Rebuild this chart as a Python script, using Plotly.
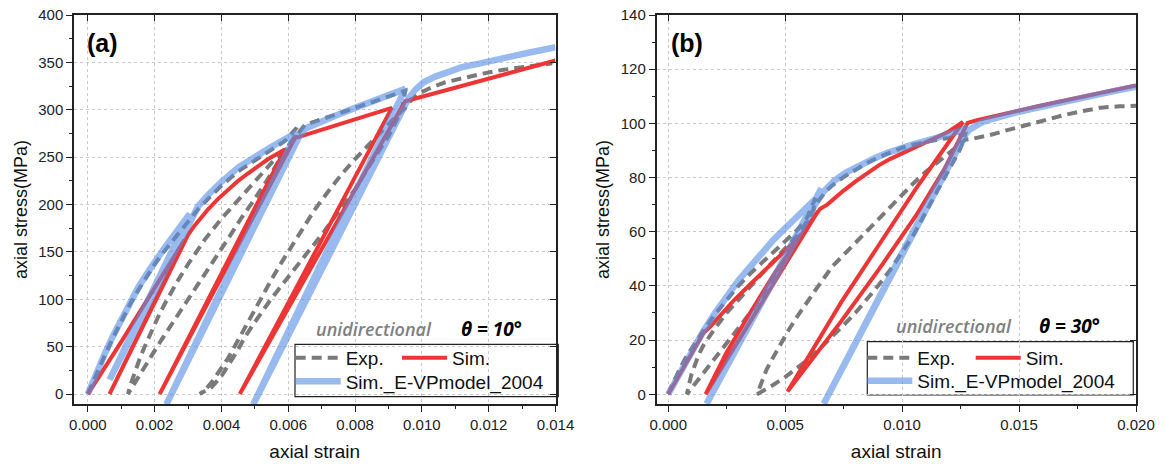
import plotly.graph_objects as go

# ---------------- data: panel (a), theta = 10 deg ----------------
exp_a_strain = [0, 0.00025, 0.0005, 0.00075, 0.001, 0.00125, 0.0015, 0.00175, 0.002, 0.00225, 0.0025, 0.00275,
                0.003, 0.0033, 0.0036, 0.004, 0.0045, 0.005, 0.0055, 0.0059, 0.00625,
                0.0062, 0.006, 0.0057, 0.0053, 0.0049, 0.0046, 0.0042, 0.0039, 0.0035, 0.0032, 0.0028, 0.0025,
                0.0022, 0.0019, 0.0017, 0.0015, 0.00135, 0.0012,
                0.0013, 0.0014, 0.00155, 0.0017, 0.0019, 0.0021, 0.0023, 0.0025, 0.0027, 0.003, 0.0035, 0.004,
                0.0045, 0.005, 0.0055, 0.006, 0.0063,
                0.0065, 0.007, 0.0075, 0.008, 0.0085, 0.009, 0.0095,
                0.0094, 0.0092, 0.009, 0.0085, 0.008, 0.0075, 0.007, 0.0065, 0.006, 0.0055, 0.005, 0.0047, 0.0045,
                0.0042, 0.004, 0.0037, 0.00335,
                0.0035, 0.0037, 0.004, 0.0042, 0.0045, 0.0047, 0.005, 0.0052, 0.0055, 0.0058, 0.0062, 0.0065,
                0.0068, 0.0072, 0.0076, 0.008, 0.0084, 0.0087, 0.009, 0.0092, 0.0095,
                0.0097, 0.0099, 0.01025, 0.0107, 0.01125, 0.0118, 0.0124, 0.013, 0.0139]
exp_a_stress = [0, 21, 40, 59, 77, 94, 109, 124, 137, 149, 160, 172,
                183, 195, 206, 220, 235, 247, 258, 267, 281,
                272, 262, 245, 222, 201, 186, 164, 148, 127, 110, 89, 74,
                57, 40, 28, 17, 8, 0,
                12, 23, 37, 50, 66, 81, 95, 108, 120, 137, 163, 185,
                205, 225, 244, 262, 276,
                284, 290, 296, 302, 308, 314, 320,
                300, 286, 272, 245, 216, 192, 168, 146, 124, 101, 76, 60, 47,
                30, 19, 7, 0,
                4, 12, 27, 38, 57, 70, 90, 102, 121, 139, 162, 178,
                195, 214, 232, 248, 263, 274, 285, 292, 302,
                311, 317, 323, 329, 334, 338, 342, 345, 349]

sim_a_strain = [0, 0.001, 0.002, 0.0029, 0.00065, 0.003, 0.0032, 0.0034, 0.0036, 0.0039, 0.0042, 0.0045,
                0.0048, 0.0051, 0.0054, 0.0057, 0.0059,
                0.00215, 0.0062, 0.0091, 0.00455, 0.0095, 0.014]
sim_a_stress = [0, 55, 112, 163, 0, 168, 178, 187, 195, 206, 216, 225,
                233, 241, 248, 254, 258,
                0, 270, 302, 0, 309, 352]

vp_a_strain = [0, 0.00025, 0.0005, 0.00075, 0.001, 0.00125, 0.0015, 0.00175, 0.002, 0.00225, 0.0025, 0.00275,
               0.003, 0.00305,
               0.00065, 0.0031,
               0.0033, 0.0036, 0.004, 0.0045, 0.005, 0.0055, 0.006, 0.00625,
               0.00235, 0.0063,
               0.0065, 0.007, 0.0075, 0.008, 0.0085, 0.009, 0.0095,
               0.00495, 0.0096, 0.0098, 0.01005, 0.0104, 0.01075, 0.0112, 0.01175, 0.0122, 0.01265, 0.0133, 0.014]
vp_a_stress = [0, 22, 42, 61, 79, 96, 112, 126, 140, 152, 164, 176,
               187, 190,
               15, 186,
               198, 210, 224, 239, 251, 261, 271, 276,
               -11, 270,
               280, 288, 295, 302, 309, 315, 322,
               -11, 312, 321, 329, 335, 340, 345, 349, 353, 356, 361, 366]

# ---------------- data: panel (b), theta = 30 deg ----------------
exp_b_strain = [0, 0.00025, 0.0005, 0.00075, 0.001, 0.0015, 0.002, 0.0025, 0.003, 0.0035, 0.004, 0.0045, 0.005,
                0.0055, 0.0059, 0.0063,
                0.0062, 0.006, 0.0057, 0.0053, 0.0048, 0.0043, 0.0039, 0.0035, 0.0031, 0.0027, 0.0023, 0.0019,
                0.0015, 0.0011, 0.0008,
                0.0009, 0.001, 0.00115, 0.0013, 0.0015, 0.0018, 0.0021, 0.0025, 0.0031, 0.0035, 0.0039, 0.0043,
                0.0047, 0.0051, 0.0055, 0.0058, 0.0061, 0.0064,
                0.0067, 0.007, 0.0075, 0.008, 0.0085, 0.009, 0.0095, 0.010, 0.0105, 0.011, 0.0115, 0.012, 0.0127,
                0.0126, 0.0124, 0.0122, 0.0118, 0.0115, 0.011, 0.0105, 0.010, 0.0095, 0.009, 0.0085, 0.008,
                0.0075, 0.007, 0.0065, 0.006, 0.0055, 0.005, 0.0045, 0.0041, 0.0038,
                0.004, 0.0042, 0.0045, 0.0048, 0.0051, 0.0055, 0.0059, 0.0063, 0.007, 0.0075, 0.008, 0.0085,
                0.009, 0.0095, 0.010, 0.0105, 0.011, 0.0115, 0.012, 0.0124, 0.0127,
                0.013, 0.0133, 0.0138, 0.0145, 0.015, 0.0155, 0.0162, 0.0169, 0.0177, 0.0185, 0.0193, 0.020]
exp_b_stress = [0, 5, 9.5, 13.5, 17, 23.5, 29.5, 35, 40, 44.5, 48.5, 52.5, 56.5,
                60.5, 64.5, 72.5,
                68, 64, 59.5, 53.5, 46, 39.5, 34.5, 30, 25.5, 21, 16.5, 12,
                8, 3.5, 0,
                4, 7.5, 11, 14.5, 18, 22, 25.5, 30, 36, 40, 43.5, 47.3,
                51, 54.5, 58.5, 62, 66.5, 71,
                74.5, 77, 80.2, 83, 85.4, 87.5, 89.4, 91, 92.2, 93.2, 94, 94.6, 96,
                93, 89, 86, 80, 75, 67, 59, 52.5, 46, 40.3, 35, 30,
                25.5, 21, 17, 13, 9.5, 6.3, 3.5, 1.5, 0,
                4.5, 9, 13.8, 18.5, 23, 28.5, 33.7, 38.5, 47, 51.5, 56, 60.5,
                65, 69.5, 74, 78, 82, 85.7, 89, 91.8, 94,
                94.3, 94.8, 95.8, 97.5, 98.7, 100, 101.6, 103, 104.5, 105.8, 106.3, 106.5]

sim_b_strain = [0, 0.0015, 0.0018, 0.0022, 0.0028, 0.0035, 0.0042, 0.0049, 0.0056, 0.006, 0.0064,
                0.0016,
                0.0025, 0.0035, 0.0045, 0.0055, 0.0065,
                0.0068, 0.007, 0.0075, 0.008, 0.0085, 0.009, 0.0095, 0.010, 0.0105, 0.011, 0.0115, 0.012, 0.0126,
                0.0106, 0.009, 0.0074, 0.0051,
                0.0074, 0.009, 0.0106, 0.0118, 0.0128,
                0.0132, 0.0138, 0.0145, 0.015, 0.0158, 0.0165, 0.0173, 0.018, 0.019, 0.020]
sim_b_stress = [0, 22.5, 25, 29, 34.6, 40.5, 46.2, 52, 58, 62, 67.5,
                0,
                15.5, 30, 44, 56.5, 68.5,
                70, 71.5, 75.2, 78.5, 81.6, 84.5, 86.9, 89, 91, 93, 95, 97, 100.5,
                76, 55, 34, 1,
                27, 46, 66, 83, 100.2,
                101.2, 102.4, 103.9, 105, 106.3, 107.6, 109, 110.3, 112.1, 114]

vp_b_strain = [0, 0.0005, 0.001, 0.0015, 0.002, 0.0025, 0.003, 0.0035, 0.004, 0.0045, 0.005, 0.0055, 0.006,
               0.0064, 0.00655,
               0.00164, 0.0065,
               0.0068, 0.0071, 0.0076, 0.0082, 0.0088, 0.0094, 0.0098, 0.0105, 0.0114, 0.012, 0.0124, 0.0128,
               0.00665, 0.01275,
               0.0129, 0.0131, 0.0134, 0.0138, 0.0144, 0.015, 0.0158, 0.0165, 0.0173, 0.018, 0.019, 0.020]
vp_b_stress = [0, 8, 15.8, 23.2, 30, 36.2, 42, 47, 52.3, 57, 61.3, 65.3, 69.4,
               73, 76,
               -3.5, 73.5,
               76.5, 78.8, 81.8, 84.6, 87, 89.2, 90.4, 92.3, 94.5, 95.9, 97, 98.5,
               -3.5, 96.5,
               97.8, 99, 100.3, 101.5, 103, 104.3, 105.8, 107.2, 108.7, 110, 111.8, 113.5]

x_ticks_a = [0, 0.002, 0.004, 0.006, 0.008, 0.010, 0.012, 0.014]
y_ticks_a = [0, 50, 100, 150, 200, 250, 300, 350, 400]
x_ticks_b = [0, 0.005, 0.010, 0.015, 0.020]
y_ticks_b = [0, 20, 40, 60, 80, 100, 120, 140]

legend_names = ["Exp.", "Sim.", "Sim._E-VPmodel_2004"]
panel_labels = ["(a)", "(b)"]
theta_labels = ["θ = 10°", "θ = 30°"]

# ---------------- styling ----------------
W, H = 1166, 466
ML, MR, MT, MB = 74, 30, 15, 62
PW, PH = W - ML - MR, H - MT - MB


def px2x(px):
    return (px - ML) / PW


def py2y(py):
    return (H - MB - py) / PH


GRAY = "#7a7a7a"
RED = "#ec3535"
BLUE = "rgba(88,143,228,0.62)"
FONT = "Liberation Sans"

fig = go.Figure()


def add_panel(xa, ya, es, ey, ss, sy, vs, vy, legs):
    fig.add_trace(go.Scatter(x=es, y=ey, mode="lines", name=legend_names[0], xaxis=xa, yaxis=ya,
                             line=dict(color=GRAY, width=4, dash="10px,6px"), legend=legs[0], showlegend=True))
    fig.add_trace(go.Scatter(x=ss, y=sy, mode="lines", name=legend_names[1], xaxis=xa, yaxis=ya,
                             line=dict(color=RED, width=4), legend=legs[1], showlegend=True))
    fig.add_trace(go.Scatter(x=vs, y=vy, mode="lines", name=legend_names[2], xaxis=xa, yaxis=ya,
                             line=dict(color=BLUE, width=6.5), legend=legs[2], showlegend=True))


add_panel("x", "y", exp_a_strain, exp_a_stress, sim_a_strain, sim_a_stress, vp_a_strain, vp_a_stress,
          ["legend", "legend2", "legend3"])
add_panel("x2", "y2", exp_b_strain, exp_b_stress, sim_b_strain, sim_b_stress, vp_b_strain, vp_b_stress,
          ["legend4", "legend5", "legend6"])

# empty helper traces so the mirror (inward-tick) axes are drawn
for xa, ya in [("x3", "y"), ("x", "y3"), ("x4", "y2"), ("x2", "y4")]:
    fig.add_trace(go.Scatter(x=[], y=[], xaxis=xa, yaxis=ya, showlegend=False, hoverinfo="skip"))

dom_a = [0, px2x(555.5)]
dom_b = [px2x(656.5), 1]
xr_a = [-0.000414, 0.014]
yr_a = [-10.5, 400]
xr_b = [-0.0005, 0.020]
yr_b = [-3.6, 140]


def base_axis(**kw):
    d = dict(showline=True, linecolor="#222", linewidth=1.5, ticks="outside", ticklen=6, tickwidth=1.3,
             tickcolor="#222", showgrid=True, gridcolor="#c9c9c9", griddash="dot", gridwidth=1,
             zeroline=False, tickfont=dict(family=FONT, size=15, color="#222"), automargin=False)
    d.update(kw)
    return d


def mirror_axis(**kw):
    d = dict(showline=True, linecolor="#222", linewidth=1.5, ticks="inside", ticklen=6, tickwidth=1.3,
             tickcolor="#222", showgrid=False, zeroline=False, showticklabels=False)
    d.update(kw)
    return d


title_x = dict(text="axial strain", font=dict(family=FONT, size=19, color="#111"), standoff=13)
title_y = dict(text="axial stress(MPa)", font=dict(family=FONT, size=18, color="#111"), standoff=6)

fig.update_layout(
    xaxis=base_axis(domain=dom_a, range=xr_a, tickvals=x_ticks_a, tickformat=".3f", anchor="y",
                    minor=dict(dtick=0.001, ticks="outside", ticklen=3, tickcolor="#222", showgrid=False),
                    title=title_x),
    yaxis=base_axis(domain=[0, 1], range=yr_a, tickvals=y_ticks_a, anchor="x",
                    minor=dict(dtick=25, ticks="outside", ticklen=3, tickcolor="#222", showgrid=False),
                    title=title_y),
    xaxis2=base_axis(domain=dom_b, range=xr_b, tickvals=x_ticks_b, tickformat=".3f", anchor="y2",
                     minor=dict(dtick=0.0025, ticks="outside", ticklen=3, tickcolor="#222", showgrid=False),
                     title=title_x),
    yaxis2=base_axis(domain=[0, 1], range=yr_b, tickvals=y_ticks_b, anchor="x2",
                     minor=dict(dtick=10, ticks="outside", ticklen=3, tickcolor="#222", showgrid=False),
                     title=title_y),
    xaxis3=mirror_axis(overlaying="x", anchor="y", side="top", range=xr_a, tickvals=x_ticks_a),
    yaxis3=mirror_axis(overlaying="y", anchor="x", side="right", range=yr_a, tickvals=y_ticks_a),
    xaxis4=mirror_axis(overlaying="x2", anchor="y2", side="top", range=xr_b, tickvals=x_ticks_b),
    yaxis4=mirror_axis(overlaying="y2", anchor="x2", side="right", range=yr_b, tickvals=y_ticks_b),
    width=W, height=H,
    margin=dict(l=ML, r=MR, t=MT, b=MB, pad=0),
    paper_bgcolor="white", plot_bgcolor="white",
    hovermode=False,
    showlegend=True,
)

# legends: one per entry, placed inside a common box per panel
leg_pos = {
    "legend": (296.7, 358), "legend2": (403, 358), "legend3": (296.7, 381.5),
    "legend4": (868.3, 358), "legend5": (976.7, 358), "legend6": (868.3, 381),
}
for key, (px, py) in leg_pos.items():
    fig.update_layout({key: dict(x=px2x(px - 6), y=py2y(py), xanchor="left", yanchor="middle",
                                 bgcolor="rgba(0,0,0,0)", borderwidth=0, itemwidth=45,
                                 font=dict(family=FONT, size=19, color="#111"))})

for (x0, x1, y0, y1) in [(295, 558.3, 344.3, 396.7), (867.3, 1133.3, 341.7, 395)]:
    fig.add_shape(type="rect", xref="paper", yref="paper", x0=px2x(x0), x1=px2x(x1), y0=py2y(y1), y1=py2y(y0),
                  line=dict(color="#222", width=1.2), fillcolor="white", layer="between")

ann_font_u = dict(family="Open Sans", size=18, color="#808080", style="italic", weight=600)
ann_font_t = dict(family="Open Sans", size=19, color="#000", style="italic", weight=700)
for lbl, px, py in [("unidirectional", 373.7, 329), ("unidirectional", 953.8, 326)]:
    fig.add_annotation(text=lbl, x=px2x(px), y=py2y(py), xref="paper", yref="paper", showarrow=False,
                       font=ann_font_u, xanchor="center", yanchor="middle")
for lbl, px, py in [(theta_labels[0], 491.7, 329), (theta_labels[1], 1069.7, 326)]:
    fig.add_annotation(text=lbl, x=px2x(px), y=py2y(py), xref="paper", yref="paper", showarrow=False,
                       font=ann_font_t, xanchor="center", yanchor="middle")
for lbl, px, py in [(panel_labels[0], 102.5, 43), (panel_labels[1], 686.7, 43)]:
    fig.add_annotation(text="<b>" + lbl + "</b>", x=px2x(px), y=py2y(py), xref="paper", yref="paper",
                       showarrow=False, font=dict(family=FONT, size=25, color="#000"),
                       xanchor="center", yanchor="middle")

fig.write_html("out.html")
